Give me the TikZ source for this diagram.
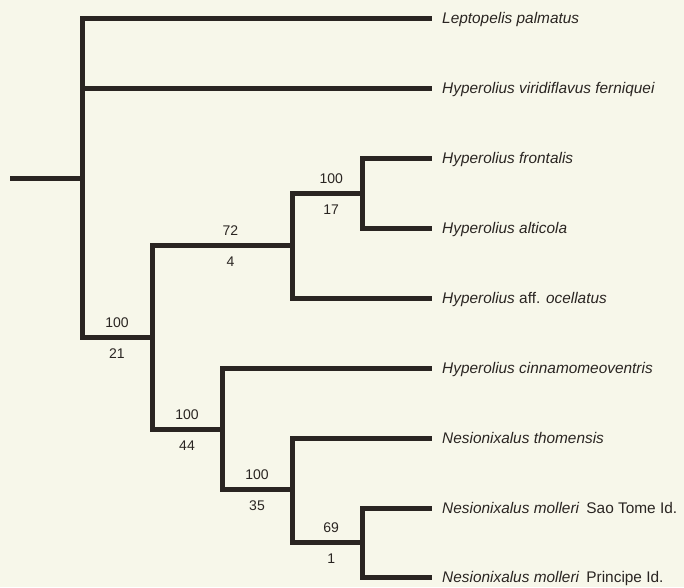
\documentclass[tikz,border=0pt]{standalone}
\usepackage{fontspec}
\setmainfont{Liberation Sans}
\usepackage{xcolor}
\definecolor{paper}{RGB}{247,247,234}
\definecolor{ink}{RGB}{42,37,34}

\begin{document}
\begin{tikzpicture}[x=1pt, y=-1pt,
    taxon/.style={anchor=west, inner xsep=10pt, inner ysep=0pt, text height=11pt, text depth=0pt, font=\fontsize{15.4}{18}\selectfont, text=ink},
    support/.style={inner sep=0pt, font=\fontsize{14}{16}\selectfont, text=ink},
    branch/.style={draw=ink, line width=5pt, line join=miter}
  ]
    % Background
    \fill [paper] (0,0) rectangle (684,587);
    \useasboundingbox (0,0) rectangle (684,587);

    % Taxa
    \node (lp) [taxon] at (432,18) {\textit{Leptopelis palmatus}};
    \node (hv) [taxon] at (432,88) {\textit{Hyperolius viridiflavus ferniquei}};
    \node (fr) [taxon] at (432,158) {\textit{Hyperolius frontalis}};
    \node (al) [taxon] at (432,228) {\textit{Hyperolius alticola}};
    \node (ao) [taxon] at (432,298) {\textit{Hyperolius} aff. \textit{ocellatus}};
    \node (ci) [taxon] at (432,368) {\textit{Hyperolius cinnamomeoventris}};
    \node (th) [taxon] at (432,438) {\textit{Nesionixalus thomensis}};
    \node (ms) [taxon] at (432,508) {\textit{Nesionixalus molleri}\hspace{0.45em}Sao Tome Id.};
    \node (mp) [taxon] at (432,577) {\textit{Nesionixalus molleri}\hspace{0.45em}Principe Id.};

    % Clades
    \coordinate (stem) at (10,178);
    \coordinate (root) at (82,178);
    \coordinate (cA) at (152,337);
    \coordinate (cB) at (292,245);
    \coordinate (cC) at (362,193);
    \coordinate (cD) at (222,429);
    \coordinate (cE) at (292,489);
    \coordinate (cF) at (362,542);

    % Branches
    \draw [branch] (stem) -- (root);
    \draw [branch] (root) |- (lp.west);
    \draw [branch] (root) |- (hv.west);
    \draw [branch] (root) |- (cA)
      node [support, pos=0.75, above=7pt] {100} node [support, pos=0.75, below=9pt] {21};
    \draw [branch] (cA) |- (cB)
      node [support, pos=0.78, above=7pt] {72} node [support, pos=0.78, below=9pt] {4};
    \draw [branch] (cB) |- (cC)
      node [support, pos=0.78, above=7pt] {100} node [support, pos=0.78, below=9pt] {17};
    \draw [branch] (cC) |- (fr.west);
    \draw [branch] (cC) |- (al.west);
    \draw [branch] (cB) |- (ao.west);
    \draw [branch] (cA) |- (cD)
      node [support, pos=0.75, above=7pt] {100} node [support, pos=0.75, below=9pt] {44};
    \draw [branch] (cD) |- (ci.west);
    \draw [branch] (cD) |- (cE)
      node [support, pos=0.75, above=7pt] {100} node [support, pos=0.75, below=9pt] {35};
    \draw [branch] (cE) |- (th.west);
    \draw [branch] (cE) |- (cF)
      node [support, pos=0.78, above=7pt] {69} node [support, pos=0.78, below=9pt] {1};
    \draw [branch] (cF) |- (ms.west);
    \draw [branch] (cF) |- (mp.west);

  \end{tikzpicture}
\end{document}
